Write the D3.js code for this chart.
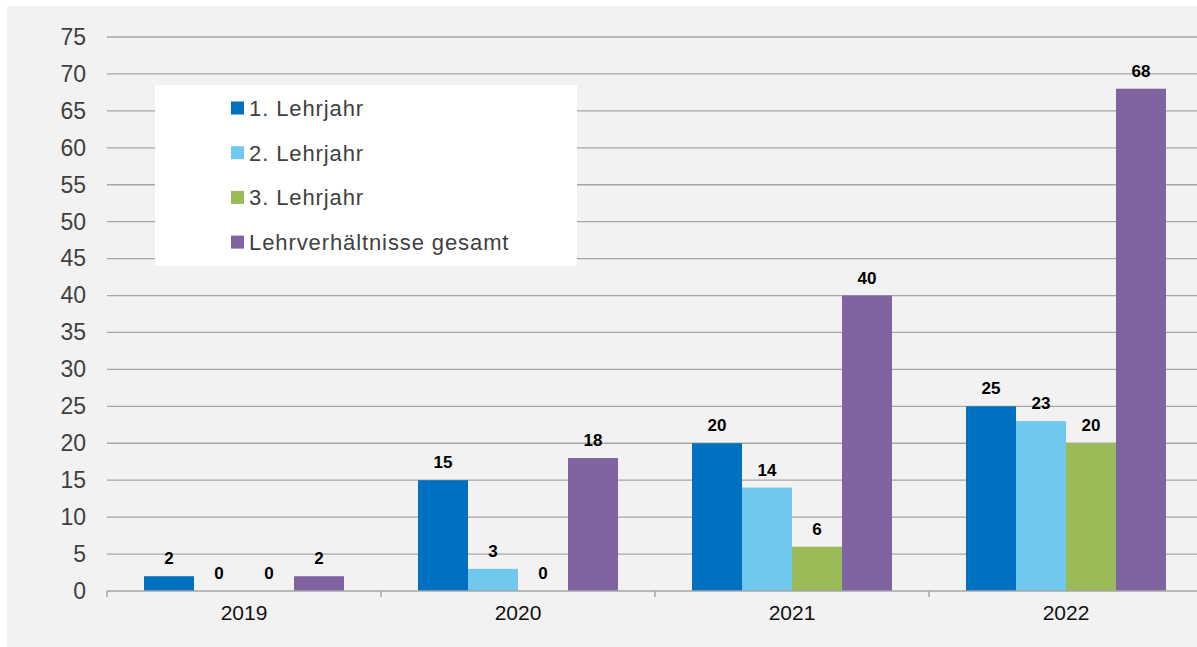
<!DOCTYPE html>
<html lang="de">
<head>
<meta charset="utf-8" />
<title>Lehrverhältnisse</title>
<script src="https://d3js.org/d3.v7.min.js"></script>
<style>
  body { margin: 0; background: #fff; }
  svg { display: block; font-family: "Liberation Sans", Arial, sans-serif; }
  .grid line { stroke: #a6a6a6; stroke-width: 1.3px; }
  .yaxis text { fill: #404040; font-size: 23px; }
  .xaxis text { fill: #111; font-size: 21px; }
  .val { font-weight: bold; font-size: 17px; fill: #000; }
  .legend text { fill: #404040; font-size: 22px; letter-spacing: 0.9px; }
</style>
</head>
<body>
<script>
  // Daten
  var years = ["2019", "2020", "2021", "2022"];
  var seriesNames = ["1. Lehrjahr", "2. Lehrjahr", "3. Lehrjahr", "Lehrverhältnisse gesamt"];
  var lehrjahr1 = [2, 15, 20, 25];
  var lehrjahr2 = [0, 3, 14, 23];
  var lehrjahr3 = [0, 0, 6, 20];
  var gesamt = [2, 18, 40, 68];
  var yTicks = [0, 5, 10, 15, 20, 25, 30, 35, 40, 45, 50, 55, 60, 65, 70, 75];
  var colors = ["#0070c0", "#71c8ef", "#9bbb59", "#8064a2"];

  var values = [lehrjahr1, lehrjahr2, lehrjahr3, gesamt];

  var width = 1197, height = 647;
  var mLeft = 107, mRight = 1203, mTop = 37, mBottom = 591;

  var svg = d3.select("body").append("svg")
      .attr("width", width)
      .attr("height", height);

  // grauer Hintergrund
  svg.append("rect")
      .attr("x", 7).attr("y", 6)
      .attr("width", width - 7).attr("height", height - 6)
      .attr("fill", "#f2f2f2");

  var x0 = d3.scaleBand().domain(years).range([mLeft, mRight]).paddingInner(0).paddingOuter(0);
  var x1 = d3.scaleBand().domain(d3.range(4)).range([0, x0.bandwidth()]).paddingOuter(0.74).paddingInner(0);
  var y = d3.scaleLinear().domain([0, 75]).range([mBottom, mTop]);

  // Gitterlinien
  svg.append("g").attr("class", "grid")
    .selectAll("line")
    .data(yTicks.slice(1))
    .enter().append("line")
      .attr("x1", mLeft).attr("x2", width)
      .attr("y1", function (d) { return y(d); })
      .attr("y2", function (d) { return y(d); });

  // y-Achse
  var yAxis = svg.append("g").attr("class", "yaxis")
      .attr("transform", "translate(" + (mLeft - 21) + ",0)")
      .call(d3.axisLeft(y).tickValues(yTicks).tickSize(0).tickPadding(0));
  yAxis.select(".domain").remove();

  // Balken
  var groups = svg.append("g")
    .selectAll("g")
    .data(years)
    .enter().append("g")
      .attr("transform", function (d) { return "translate(" + x0(d) + ",0)"; });

  function rows(d, i) {
    return values.map(function (s, k) { return { k: k, v: s[i] }; });
  }

  groups.selectAll("rect")
    .data(rows)
    .enter().append("rect")
      .attr("x", function (d) { return x1(d.k); })
      .attr("width", x1.bandwidth())
      .attr("y", function (d) { return y(d.v); })
      .attr("height", function (d) { return y(0) - y(d.v); })
      .attr("fill", function (d) { return colors[d.k]; });

  groups.selectAll("text")
    .data(rows)
    .enter().append("text")
      .attr("class", "val")
      .attr("text-anchor", "middle")
      .attr("x", function (d) { return x1(d.k) + x1.bandwidth() / 2; })
      .attr("y", function (d) { return y(d.v) - 12; })
      .text(function (d) { return d.v; });

  // x-Achse
  var xAxis = svg.append("g").attr("class", "xaxis")
      .attr("transform", "translate(0," + mBottom + ")")
      .call(d3.axisBottom(x0).tickSize(0).tickPadding(14));
  xAxis.select(".domain").remove();
  svg.append("line")
      .attr("x1", mLeft).attr("x2", width)
      .attr("y1", mBottom).attr("y2", mBottom)
      .attr("stroke", "#a6a6a6").attr("stroke-width", 1.5);
  svg.append("g")
    .selectAll("line")
    .data(years)
    .enter().append("line")
      .attr("x1", function (d) { return x0(d); })
      .attr("x2", function (d) { return x0(d); })
      .attr("y1", mBottom).attr("y2", mBottom + 6)
      .attr("stroke", "#a6a6a6").attr("stroke-width", 1.5);

  // Legende
  var legend = svg.append("g").attr("class", "legend");
  legend.append("rect")
      .attr("x", 155).attr("y", 85)
      .attr("width", 422).attr("height", 181)
      .attr("fill", "#fff");
  var item = legend.selectAll("g")
    .data(seriesNames)
    .enter().append("g")
      .attr("transform", function (d, i) { return "translate(231," + (108 + i * 44.7) + ")"; });
  item.append("rect")
      .attr("x", 0).attr("y", -6.5)
      .attr("width", 13).attr("height", 13)
      .attr("fill", function (d, i) { return colors[i]; });
  item.append("text")
      .attr("x", 18).attr("dy", "0.36em")
      .text(function (d) { return d; });
</script>
</body>
</html>
